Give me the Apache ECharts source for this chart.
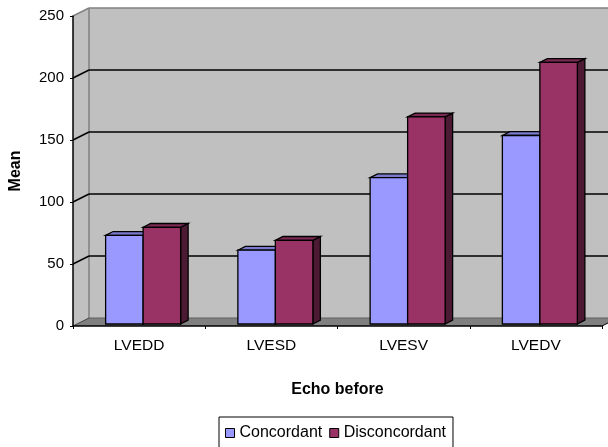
<!DOCTYPE html>
<html><head><meta charset="utf-8">
<style>html,body{margin:0;padding:0;background:#fff}#c{width:608px;height:447px}</style>
<script src="https://cdn.jsdelivr.net/npm/echarts@6/dist/echarts.min.js"></script>
</head><body><div id="c"></div>
<script>
const categories = ['LVEDD','LVESD','LVESV','LVEDV'];
const concordant = [71.5,59.5,118,152];
const disconcordant = [78,67.5,167,211];
const yTicks = [0,50,100,150,200,250];
const seriesNames = ['Concordant','Disconcordant'];
const DX=16, DY=-8;
const font='"Liberation Sans", Arial, sans-serif';
const chart=echarts.init(document.getElementById('c'),null,{renderer:'canvas'});

function wallsItem(params,api){
  const y0=api.coord([0,0])[1], y1=api.coord([0,250])[1];
  const half=api.size([1,0])[0]/2;
  const x0=api.coord([0,0])[0]-half, x1=api.coord([3,0])[0]+half;
  const kids=[];
  const poly=(pts,fill)=>kids.push({type:'polygon',shape:{points:pts},style:{fill:fill}});
  const line=(a,b,c,lw)=>kids.push({type:'line',shape:{x1:a[0],y1:a[1],x2:b[0],y2:b[1]},style:{stroke:c,lineWidth:lw,fill:null}});
  poly([[x0,y1],[x0+DX,y1+DY],[x0+DX,y0+DY],[x0,y0]],'#c0c0c0');
  poly([[x0+DX,y1+DY],[x1+DX,y1+DY],[x1+DX,y0+DY],[x0+DX,y0+DY]],'#c0c0c0');
  poly([[x0,y0],[x0+DX,y0+DY],[x1+DX,y0+DY],[x1,y0]],'#808080');
  line([x0,y1],[x0+DX,y1+DY],'#808080',1.5);
  line([x0+DX,y1+DY],[x1+DX,y1+DY],'#808080',1.5);
  line([x0+DX,y1+DY],[x0+DX,y0+DY],'#808080',1.5);
  line([x0+DX,y0+DY],[x1+DX,y0+DY],'#606060',1);
  yTicks.forEach(t=>{
    if(t===0||t===250) return;
    const y=api.coord([0,t])[1];
    line([x0,y],[x0+DX,y+DY],'#000',1.4);
    line([x0+DX,y+DY],[x1+DX,y+DY],'#000',1.5);
  });
  line([x0,y0],[x0+DX,y0+DY],'#404040',1);
  line([x1,y0],[x1+DX,y0+DY],'#000',1);
  return {type:'group',silent:true,children:kids};
}
function barItem(front,top,side,shift){
  return function(params,api){
    const base=api.coord([api.value(0),0]);
    const t=api.coord([api.value(0),api.value(1)]);
    const w=37.5;
    const ox=shift*w+4, oy=-2;
    const xl=base[0]+ox, xr=xl+w, yb=base[1]+oy, yt=t[1]+oy;
    const dx=7.5, dy=-3.8;
    const st={stroke:'#000',lineWidth:1.3,lineJoin:'miter'};
    const mk=(pts,fill)=>({type:'polygon',shape:{points:pts},style:Object.assign({fill:fill},st)});
    return {type:'group',children:[
      mk([[xr,yb],[xr+dx,yb+dy],[xr+dx,yt+dy],[xr,yt]],side),
      mk([[xl,yt],[xl+dx,yt+dy],[xr+dx,yt+dy],[xr,yt]],top),
      mk([[xl,yb],[xr,yb],[xr,yt],[xl,yt]],front)
    ]};
  };
}
const idx=(a)=>a.map((v,i)=>[i,v]);
chart.setOption({
  animation:false,
  backgroundColor:'#fff',
  grid:{left:73,top:16,width:529,height:310,containLabel:false,outerBoundsMode:'none'},
  xAxis:{type:'category',data:categories,boundaryGap:true,
    name:'Echo before',nameLocation:'middle',nameGap:56,
    nameTextStyle:{fontFamily:font,fontSize:16,fontWeight:'bold',color:'#000'},
    axisLine:{lineStyle:{color:'#000',width:1.5}},
    axisTick:{show:true,length:3,alignWithLabel:false,lineStyle:{color:'#000',width:1}},
    axisLabel:{fontFamily:font,fontSize:15.5,color:'#000',margin:12},
    splitLine:{show:false},z:5},
  yAxis:{type:'value',min:0,max:250,interval:50,
    name:'Mean',nameLocation:'middle',nameGap:49,nameRotate:90,
    nameTextStyle:{fontFamily:font,fontSize:16,fontWeight:'bold',color:'#000'},
    axisLine:{show:true,lineStyle:{color:'#000',width:1.5}},
    axisTick:{show:true,length:3,lineStyle:{color:'#000',width:1}},
    axisLabel:{fontFamily:font,fontSize:15,color:'#000',margin:9},
    splitLine:{show:false},z:5},
  legend:{show:true,data:seriesNames,left:219,top:417,orient:'horizontal',
    padding:[8,7,14,6],itemGap:7,itemWidth:9,itemHeight:9,icon:'rect',
    borderColor:'#000',borderWidth:1,backgroundColor:'#fff',
    textStyle:{fontFamily:font,fontSize:16,color:'#000',padding:[0,0,0,0]},
    itemStyle:{borderColor:'#000',borderWidth:1}},
  series:[
    {type:'custom',name:'walls',silent:true,z:1,clip:false,renderItem:wallsItem,data:[[0,0]],encode:{x:0,y:1}},
    {type:'custom',name:seriesNames[0],z:3,clip:false,renderItem:barItem('#9999ff','#7a7acc','#4d4d80',-1),itemStyle:{color:'#9999ff'},data:idx(concordant),encode:{x:0,y:1}},
    {type:'custom',name:seriesNames[1],z:4,clip:false,renderItem:barItem('#993366','#7a2952','#4d1a33',0),itemStyle:{color:'#993366'},data:idx(disconcordant),encode:{x:0,y:1}}
  ]
});
</script></body></html>
